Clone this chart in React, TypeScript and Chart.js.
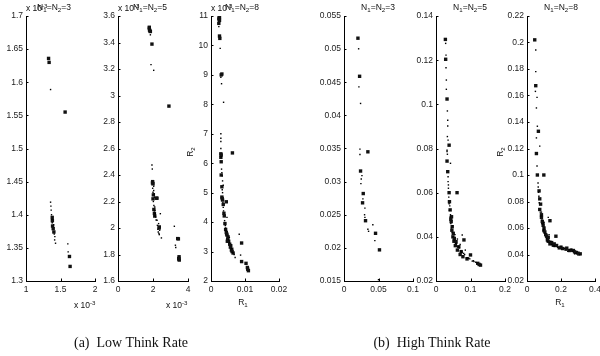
import React, { useEffect, useRef } from 'react';
import { Chart, registerables } from 'chart.js';
Chart.register(...registerables);

type Pt = [number, number];

// ---------- data ----------
const titles = ['3', '5', '8', '3', '5', '8'];

const p1XTicks = [1, 1.5, 2];
const p1YTicks = [1.3, 1.35, 1.4, 1.45, 1.5, 1.55, 1.6, 1.65, 1.7];
const p1Dots: Pt[] = [[1.356,1.589],[1.356,1.419],[1.361,1.413],[1.365,1.407],[1.370,1.400],[1.375,1.393],[1.380,1.388],[1.409,1.371],[1.418,1.367],[1.428,1.357],[1.606,1.356],[1.611,1.344],[1.40,1.385],[1.415,1.362]];
const p1Squares: Pt[] = [[1.327,1.636],[1.335,1.630],[1.567,1.555],[1.380,1.396],[1.382,1.391],[1.385,1.383],[1.394,1.379],[1.404,1.374],[1.630,1.337],[1.639,1.322]];

const p2XTicks = [0, 2, 4];
const p2YTicks = [1.6, 1.8, 2, 2.2, 2.4, 2.6, 2.8, 3, 3.2, 3.4, 3.6];
const p2Dots: Pt[] = [[1.85,3.458],[1.886,3.233],[2.04,3.19],[1.94,2.475],[1.96,2.445],[2.04,2.315],[2.04,2.283],[2.06,2.258],[2.08,2.233],[2.10,2.158],[2.11,2.133],[2.13,2.108],[2.15,2.083],[2.23,2.058],[2.32,2.033],[2.38,1.983],[2.34,1.958],[2.48,1.925],[2.42,2.108],[3.22,2.013],[3.28,1.87],[3.30,1.853],[1.98,2.30],[2.0,2.27],[2.02,2.20],[2.05,2.17],[2.08,2.12],[2.12,2.09],[2.18,2.06],[2.25,2.02],[2.28,1.99],[2.30,1.97],[2.36,1.95]];
const p2Squares: Pt[] = [[1.79,3.508],[1.80,3.495],[1.82,3.488],[1.85,3.483],[1.79,3.515],[1.94,3.388],[2.91,2.92],[1.98,2.35],[2.0,2.333],[1.97,2.34],[2.23,2.225],[2.19,2.225],[2.36,2.008],[2.35,2.0],[2.05,2.14],[2.08,2.11],[2.1,2.09],[3.41,1.92],[3.45,1.918],[3.49,1.783],[3.50,1.758],[3.47,1.77],[3.48,1.765],[2.0,2.22],[2.02,2.25]];

const p3XTicks = [0, 0.01, 0.02];
const p3YTicks = [2, 3, 4, 5, 6, 7, 8, 9, 10, 11];
const p3Dots: Pt[] = [[0.0023,10.64],[0.0027,9.9],[0.0029,8.92],[0.0031,8.7],[0.0037,8.07],[0.0029,7.0],[0.0029,6.85],[0.0029,6.74],[0.0029,6.5],[0.0030,6.22],[0.0032,5.68],[0.0033,5.57],[0.0034,5.4],[0.0036,5.25],[0.0034,5.0],[0.0035,4.67],[0.0037,4.38],[0.0047,4.16],[0.0042,3.88],[0.0044,3.71],[0.0054,3.48],[0.0054,3.31],[0.0064,2.97],[0.0071,2.8],[0.0083,3.59],[0.0087,2.88],[0.0031,5.8],[0.0033,5.1],[0.0036,4.5],[0.0040,4.05],[0.0043,3.8],[0.0052,3.4],[0.0060,3.1],[0.0068,2.9]];
const p3Squares: Pt[] = [[0.0024,11.0],[0.0025,10.95],[0.0023,10.9],[0.0025,10.85],[0.0023,10.75],[0.0025,10.32],[0.0026,10.24],[0.0032,9.03],[0.0030,9.0],[0.0029,6.32],[0.0063,6.35],[0.0030,6.05],[0.0029,6.2],[0.0033,4.8],[0.0032,4.85],[0.0045,4.69],[0.0039,4.21],[0.0047,3.56],[0.0049,3.42],[0.0050,3.5],[0.0058,3.2],[0.0061,3.08],[0.009,3.29],[0.009,2.66],[0.0103,2.6],[0.0107,2.46],[0.011,2.35],[0.0108,2.40],[0.0045,3.65],[0.0048,3.35],[0.0055,3.25],[0.0062,3.0],[0.0030,6.28],[0.0030,5.6],[0.0032,5.2],[0.0034,4.75],[0.0036,4.6],[0.0038,4.3],[0.0041,3.95],[0.0043,3.75],[0.0046,3.6],[0.0052,3.35],[0.0057,3.15],[0.0060,3.05],[0.0065,2.95]];

const p4XTicks = [0, 0.05, 0.1];
const p4YTicks = [0.015, 0.02, 0.025, 0.03, 0.035, 0.04, 0.045, 0.05, 0.055];
const p4Dots: Pt[] = [[0.0212,0.05005],[0.0216,0.0443],[0.024,0.0418],[0.0231,0.0349],[0.0231,0.0341],[0.026,0.0309],[0.025,0.0304],[0.0245,0.0297],[0.0274,0.0274],[0.0303,0.026],[0.0298,0.025],[0.0303,0.0246],[0.0346,0.0228],[0.0356,0.0225],[0.0418,0.0235],[0.0447,0.0211],[0.05,0.0152]];
const p4Squares: Pt[] = [[0.0202,0.05165],[0.0226,0.0459],[0.0346,0.0345],[0.024,0.0316],[0.0279,0.0282],[0.0269,0.0268],[0.0312,0.0241],[0.0457,0.0222],[0.0514,0.0197]];

const p5XTicks = [0, 0.1, 0.2];
const p5YTicks = [0.02, 0.04, 0.06, 0.08, 0.1, 0.12, 0.14];
const p5Dots: Pt[] = [[0.028,0.1276],[0.029,0.1223],[0.029,0.1166],[0.030,0.111],[0.030,0.1068],[0.033,0.097],[0.034,0.0928],[0.034,0.0902],[0.033,0.0854],[0.035,0.0838],[0.032,0.0792],[0.033,0.0774],[0.032,0.0786],[0.042,0.0733],[0.035,0.0672],[0.035,0.065],[0.036,0.0635],[0.036,0.062],[0.076,0.0408],[0.085,0.034],[0.095,0.0303],[0.11,0.0288],[0.040,0.054],[0.042,0.050],[0.048,0.045],[0.055,0.041],[0.060,0.037],[0.068,0.035],[0.075,0.033],[0.083,0.032],[0.088,0.0305],[0.105,0.029],[0.115,0.0285],[0.062,0.039],[0.07,0.0365],[0.037,0.058],[0.038,0.055],[0.039,0.052],[0.041,0.049],[0.043,0.046],[0.045,0.044],[0.047,0.042],[0.050,0.040],[0.053,0.0385],[0.057,0.037],[0.064,0.0355],[0.072,0.0335],[0.08,0.0325],[0.092,0.0305],[0.098,0.030],[0.108,0.0292],[0.118,0.0283]];
const p5Squares: Pt[] = [[0.0272,0.1294],[0.028,0.1204],[0.032,0.1024],[0.038,0.0815],[0.032,0.0743],[0.034,0.0695],[0.038,0.06],[0.061,0.06],[0.039,0.0559],[0.041,0.0522],[0.045,0.0491],[0.044,0.0469],[0.047,0.0446],[0.050,0.0416],[0.053,0.0393],[0.058,0.0378],[0.081,0.0386],[0.066,0.0355],[0.073,0.0333],[0.10,0.0318],[0.121,0.028],[0.129,0.0272],[0.043,0.048],[0.046,0.043],[0.049,0.040],[0.052,0.038],[0.056,0.036],[0.062,0.034],[0.07,0.032],[0.078,0.031],[0.09,0.030],[0.125,0.0275]];

const p6XTicks = [0, 0.2, 0.4];
const p6YTicks = [0.02, 0.04, 0.06, 0.08, 0.1, 0.12, 0.14, 0.16, 0.18, 0.2, 0.22];
const p6Dots: Pt[] = [[0.0515,0.1944],[0.0515,0.178],[0.0495,0.1631],[0.059,0.1586],[0.0554,0.1506],[0.061,0.1368],[0.0554,0.128],[0.075,0.1218],[0.059,0.1068],[0.065,0.094],[0.066,0.091],[0.068,0.087],[0.07,0.084],[0.125,0.068],[0.095,0.058],[0.115,0.052],[0.14,0.05],[0.16,0.046],[0.2,0.046],[0.24,0.0425],[0.26,0.044],[0.28,0.0405],[0.3,0.0395],[0.085,0.072],[0.1,0.064],[0.13,0.055],[0.072,0.079],[0.078,0.072],[0.082,0.069],[0.088,0.066],[0.092,0.063],[0.098,0.059],[0.105,0.056],[0.112,0.053],[0.12,0.05],[0.13,0.049],[0.145,0.0475],[0.16,0.0465],[0.18,0.0455],[0.22,0.0445],[0.25,0.0435],[0.27,0.0425],[0.29,0.041],[0.31,0.0398]];
const p6Squares: Pt[] = [[0.0455,0.202],[0.0515,0.1674],[0.067,0.133],[0.0554,0.1162],[0.061,0.1],[0.099,0.1],[0.071,0.088],[0.075,0.082],[0.075,0.074],[0.085,0.068],[0.095,0.062],[0.135,0.0655],[0.105,0.057],[0.125,0.053],[0.17,0.0538],[0.145,0.049],[0.174,0.0468],[0.234,0.0448],[0.273,0.043],[0.313,0.0405],[0.08,0.078],[0.09,0.065],[0.1,0.06],[0.11,0.055],[0.12,0.051],[0.135,0.048],[0.155,0.047],[0.19,0.045],[0.21,0.0445],[0.25,0.043],[0.29,0.0415],[0.3,0.041],[0.085,0.07],[0.092,0.064],[0.1,0.058],[0.115,0.054],[0.125,0.05],[0.14,0.0485],[0.16,0.048],[0.2,0.0455],[0.23,0.044],[0.26,0.0432],[0.28,0.042]];

// ---------- layout ----------
const W = 600, H = 356;
const PLOT_TOP = 16, PLOT_BOTTOM = 281, YW = 26, XH = 20;
const FONT = '"Liberation Sans", Arial, Helvetica, sans-serif';
const SERIF = '"Liberation Serif", "Times New Roman", serif';

const panels = [
  { left: 26, right: 95, xT: p1XTicks, yT: p1YTicks, dots: p1Dots, sq: p1Squares },
  { left: 118, right: 188, xT: p2XTicks, yT: p2YTicks, dots: p2Dots, sq: p2Squares },
  { left: 211, right: 279, xT: p3XTicks, yT: p3YTicks, dots: p3Dots, sq: p3Squares },
  { left: 344, right: 413, xT: p4XTicks, yT: p4YTicks, dots: p4Dots, sq: p4Squares },
  { left: 436, right: 505, xT: p5XTicks, yT: p5YTicks, dots: p5Dots, sq: p5Squares },
  { left: 527, right: 595, xT: p6XTicks, yT: p6YTicks, dots: p6Dots, sq: p6Squares },
];

const fmt = (v: any) => String(+(+v).toFixed(6));

const inwardTicks = {
  id: 'inwardTicks',
  afterDatasetsDraw(chart: any) {
    const { ctx, chartArea } = chart;
    const xs = chart.scales.x, ys = chart.scales.y;
    ctx.save();
    ctx.strokeStyle = '#000';
    ctx.lineWidth = 1;
    ctx.beginPath();
    xs.ticks.forEach((t: any) => {
      const px = Math.round(xs.getPixelForValue(t.value)) + 0.5;
      ctx.moveTo(px, chartArea.bottom);
      ctx.lineTo(px, chartArea.bottom - 2.5);
    });
    ys.ticks.forEach((t: any) => {
      const py = Math.round(ys.getPixelForValue(t.value)) + 0.5;
      ctx.moveTo(chartArea.left, py);
      ctx.lineTo(chartArea.left + 2.5, py);
    });
    ctx.stroke();
    ctx.restore();
  },
};

function makeConfig(p: typeof panels[number]): any {
  const tickFont = { family: FONT, size: 8.5 };
  return {
    type: 'scatter',
    data: {
      datasets: [
        {
          data: p.dots.map(([x, y]) => ({ x, y })),
          pointStyle: 'rect', pointRadius: 1.0, borderWidth: 0,
          backgroundColor: '#000', borderColor: '#000',
        },
        {
          data: p.sq.map(([x, y]) => ({ x, y })),
          pointStyle: 'rect', pointRadius: 2.4, borderWidth: 0,
          backgroundColor: '#111', borderColor: '#111',
        },
      ],
    },
    options: {
      responsive: false,
      animation: false,
      devicePixelRatio: 1,
      events: [],
      layout: {
        padding: {
          left: p.left - YW,
          right: W - p.right,
          top: PLOT_TOP,
          bottom: H - PLOT_BOTTOM - XH,
        },
      },
      plugins: { legend: { display: false }, tooltip: { enabled: false } },
      scales: {
        x: {
          type: 'linear',
          min: p.xT[0],
          max: p.xT[p.xT.length - 1],
          afterBuildTicks: (s: any) => { s.ticks = p.xT.map((v) => ({ value: v })); },
          afterFit: (s: any) => { s.height = XH; s.paddingLeft = 0; s.paddingRight = 0; },
          grid: { display: true, drawOnChartArea: false, drawTicks: false },
          border: { display: true, color: '#000', width: 1 },
          ticks: { padding: 4, font: tickFont, color: '#222', callback: fmt, maxRotation: 0, autoSkip: false },
        },
        y: {
          type: 'linear',
          min: p.yT[0],
          max: p.yT[p.yT.length - 1],
          afterBuildTicks: (s: any) => { s.ticks = p.yT.map((v) => ({ value: v })); },
          afterFit: (s: any) => { s.width = YW; s.paddingTop = 0; s.paddingBottom = 0; },
          grid: { display: true, drawOnChartArea: false, drawTicks: false },
          border: { display: true, color: '#000', width: 1 },
          ticks: { padding: 3, font: tickFont, color: '#222', callback: fmt, autoSkip: false },
        },
      },
    },
    plugins: [inwardTicks],
  };
}

const Sub = ({ c }: { c: string }) => (
  <span style={{ fontSize: '0.72em', position: 'relative', top: '0.35em' }}>{c}</span>
);
const Sup = ({ c }: { c: string }) => (
  <span style={{ fontSize: '0.72em', position: 'relative', top: '-0.5em' }}>{c}</span>
);

const abs = (x: number, y: number, center = true): React.CSSProperties => ({
  position: 'absolute', left: x, top: y,
  transform: center ? 'translate(-50%, -50%)' : 'translate(0, -50%)',
  whiteSpace: 'nowrap', lineHeight: 1,
});

export default function App() {
  const refs = useRef<(HTMLCanvasElement | null)[]>([]);
  useEffect(() => {
    const charts = panels.map((p, i) => new Chart(refs.current[i] as HTMLCanvasElement, makeConfig(p)));
    return () => charts.forEach((c) => c.destroy());
  }, []);

  const titleX = [54, 150, 242, 378, 470, 561];
  return (
    <div style={{ position: 'absolute', left: 0, top: 0, width: W, height: H, background: '#fff', fontFamily: FONT, fontSize: 8.5, color: '#111' }}>
      {panels.map((_, i) => (
        <canvas key={i} ref={(el) => { refs.current[i] = el; }} width={W} height={H}
          style={{ position: 'absolute', left: 0, top: 0, width: W, height: H }} />
      ))}
      {[26, 118, 211].map((x, i) => (
        <span key={'ey' + i} style={abs(x, 8, false)}>x 10<Sup c="-3" /></span>
      ))}
      {titles.map((t, i) => (
        <span key={'t' + i} style={abs(titleX[i], 7)}>
          N<Sub c="1" />=N<Sub c="2" />={t}
        </span>
      ))}
      <span style={abs(74, 305, false)}>x 10<Sup c="-3" /></span>
      <span style={abs(166, 305, false)}>x 10<Sup c="-3" /></span>
      <span style={abs(243, 302)}>R<Sub c="1" /></span>
      <span style={abs(560, 302)}>R<Sub c="1" /></span>
      <span style={{ ...abs(190, 152), transform: 'translate(-50%, -50%) rotate(-90deg)' }}>R<Sub c="2" /></span>
      <span style={{ ...abs(500, 152), transform: 'translate(-50%, -50%) rotate(-90deg)' }}>R<Sub c="2" /></span>
      <span style={{ ...abs(131, 343), fontFamily: SERIF, fontSize: 14 }}>(a)&nbsp;&nbsp;Low Think Rate</span>
      <span style={{ ...abs(432, 343), fontFamily: SERIF, fontSize: 14 }}>(b)&nbsp;&nbsp;High Think Rate</span>
    </div>
  );
}
